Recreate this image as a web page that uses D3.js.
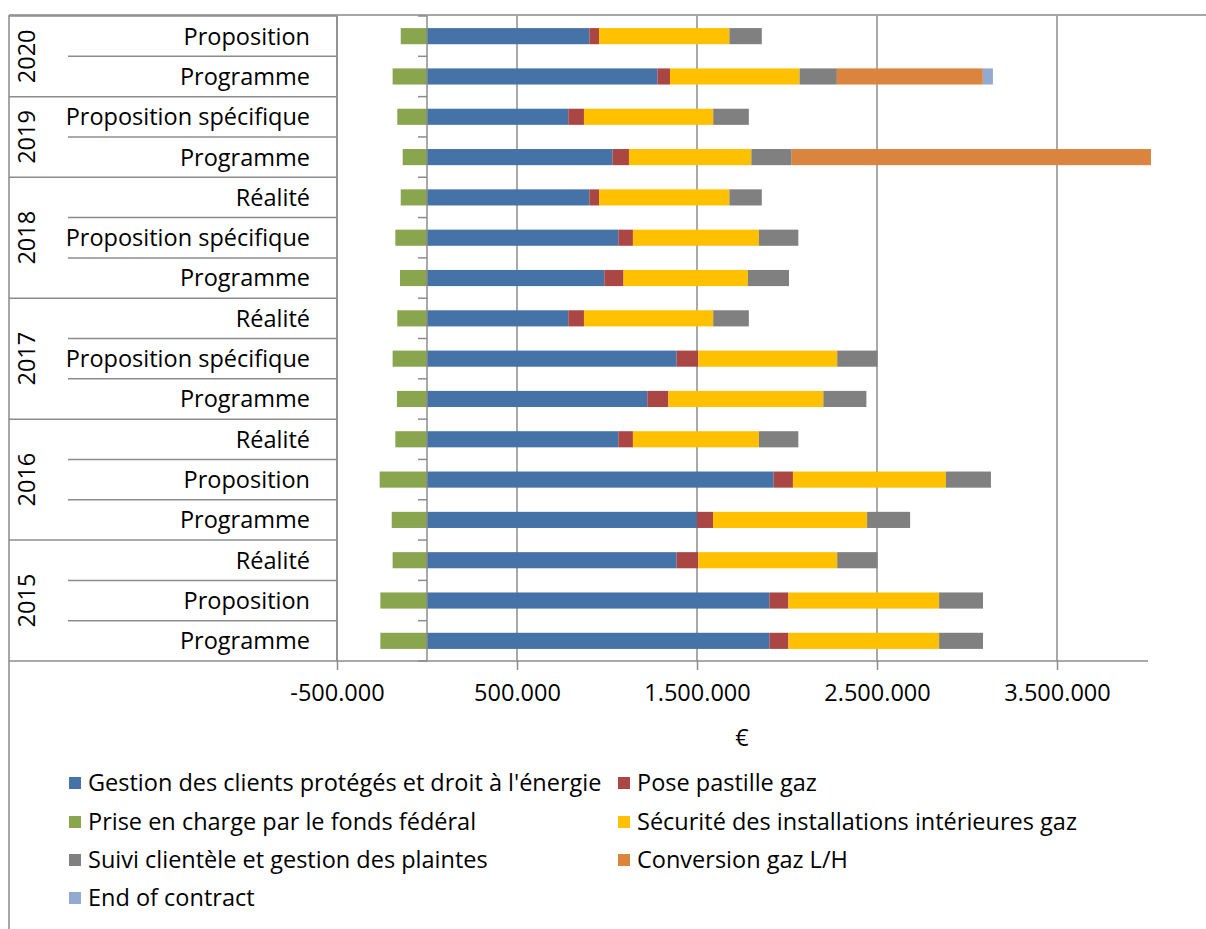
<!DOCTYPE html>
<html>
<head>
<meta charset="utf-8">
<script src="https://cdn.jsdelivr.net/npm/d3@7"></script>
<style>
  html, body { margin: 0; padding: 0; background: #fff; }
  svg { display: block; font-family: "Open Sans", sans-serif; }
</style>
</head>
<body>
<svg id="chart" width="1206" height="929"></svg>
<script>
// Rows listed from top to bottom of the chart
const years = ["2020", "2020", "2019", "2019", "2018", "2018", "2018", "2017", "2017", "2017",
               "2016", "2016", "2016", "2015", "2015", "2015"];
const labels = ["Proposition", "Programme", "Proposition spécifique", "Programme",
                "Réalité", "Proposition spécifique", "Programme",
                "Réalité", "Proposition spécifique", "Programme",
                "Réalité", "Proposition", "Programme",
                "Réalité", "Proposition", "Programme"];

const gestion    = [902000, 1280000, 785000, 1031000, 902000, 1063000, 985000, 785000, 1387000, 1224000, 1063000, 1926000, 1500000, 1387000, 1902000, 1902000];
const pose       = [54000, 70000, 87000, 91000, 54000, 81000, 107000, 87000, 120000, 117000, 81000, 107000, 89000, 120000, 106000, 106000];
const prise      = [-146000, -191000, -165000, -135000, -146000, -176000, -150000, -165000, -191000, -167000, -176000, -263000, -196000, -191000, -259000, -259000];
const securite   = [724000, 720000, 718000, 680000, 724000, 700000, 691000, 718000, 772000, 861000, 700000, 850000, 856000, 772000, 837000, 837000];
const suivi      = [180000, 207000, 198000, 224000, 180000, 219000, 228000, 198000, 224000, 239000, 219000, 250000, 239000, 224000, 244000, 244000];
const conversion = [0, 811000, 0, 1996000, 0, 0, 0, 0, 0, 0, 0, 0, 0, 0, 0, 0];
const endContract= [0, 56000, 0, 0, 0, 0, 0, 0, 0, 0, 0, 0, 0, 0, 0, 0];

const xTicks = [-500000, 500000, 1500000, 2500000, 3500000];

const seriesInfo = [
  { key: "gestion",     name: "Gestion des clients protégés et droit à l'énergie", color: "#4572A7", values: gestion },
  { key: "pose",        name: "Pose pastille gaz",                                  color: "#AA4643", values: pose },
  { key: "prise",       name: "Prise en charge par le fonds fédéral",               color: "#89A54E", values: prise },
  { key: "securite",    name: "Sécurité des installations intérieures gaz",         color: "#FFC000", values: securite },
  { key: "suivi",       name: "Suivi clientèle et gestion des plaintes",            color: "#808080", values: suivi },
  { key: "conversion",  name: "Conversion gaz L/H",                                 color: "#DB843D", values: conversion },
  { key: "eoc",         name: "End of contract",                                    color: "#93A9CF", values: endContract }
];

const rows = labels.map((l, i) => {
  const r = { id: i, year: years[i], label: l };
  seriesInfo.forEach(s => r[s.key] = s.values[i]);
  return r;
});

const svg = d3.select("#chart");
const FONT = 23.5;
const lineCol = "#8c8c8c";

const plot = { left: 337, right: 1147, top: 16, bottom: 661 };

const x = d3.scaleLinear().domain([-500000, 4000000]).range([plot.left, plot.right]);
const y = d3.scaleBand().domain(rows.map(r => r.id)).range([plot.top, plot.bottom]).paddingInner(0.6).paddingOuter(0.3);
const step = y.step();

// Chart area frame (top and left edges)
svg.append("line").attr("x1", 9).attr("x2", 1206).attr("y1", 15).attr("y2", 15)
  .attr("stroke", "#a6a6a6").attr("stroke-width", 2);
svg.append("line").attr("x1", 9).attr("x2", 9).attr("y1", 15).attr("y2", 929)
  .attr("stroke", "#a6a6a6").attr("stroke-width", 2);

// Vertical gridlines
svg.append("g").selectAll("line").data(xTicks).join("line")
  .attr("x1", d => x(d)).attr("x2", d => x(d))
  .attr("y1", plot.top).attr("y2", plot.bottom)
  .attr("stroke", lineCol).attr("stroke-width", 1.5);

// Stacked bars
const stack = d3.stack().keys(seriesInfo.map(s => s.key)).offset(d3.stackOffsetDiverging);
const stacked = stack(rows);
svg.append("g").selectAll("g").data(stacked).join("g")
  .attr("fill", (d, i) => seriesInfo[i].color)
  .selectAll("rect").data(d => d.filter(p => p[1] !== p[0])).join("rect")
  .attr("x", p => x(Math.min(p[0], p[1])))
  .attr("width", p => Math.abs(x(p[1]) - x(p[0])))
  .attr("y", p => y(p.data.id))
  .attr("height", y.bandwidth());

// Category axis at zero, with row-boundary ticks
svg.append("line").attr("x1", x(0)).attr("x2", x(0)).attr("y1", plot.top).attr("y2", plot.bottom)
  .attr("stroke", lineCol).attr("stroke-width", 1.5);
svg.append("g").selectAll("line").data(d3.range(rows.length + 1)).join("line")
  .attr("x1", x(0) - 9).attr("x2", x(0))
  .attr("y1", k => plot.top + k * step).attr("y2", k => plot.top + k * step)
  .attr("stroke", lineCol).attr("stroke-width", 1.5);

// Value axis (dots as thousands separators, plain hyphen for negatives)
const fmt = d3.formatLocale({ decimal: ",", thousands: ".", grouping: [3], currency: ["", " €"], minus: "-" }).format(",");
const xAxis = d3.axisBottom(x).tickValues(xTicks).tickSize(9).tickPadding(14).tickFormat(fmt);
const gx = svg.append("g").attr("transform", `translate(0,${plot.bottom})`).call(xAxis);
gx.select(".domain").remove();
gx.selectAll(".tick line").attr("stroke", lineCol).attr("stroke-width", 1.5);
gx.selectAll(".tick text").attr("font-size", FONT).attr("fill", "#000").attr("font-family", "Open Sans");
svg.append("line").attr("x1", plot.left).attr("x2", plot.right + 1).attr("y1", plot.bottom).attr("y2", plot.bottom)
  .attr("stroke", lineCol).attr("stroke-width", 1.5);

svg.append("text").attr("x", 742).attr("y", 738).attr("dy", "0.35em")
  .attr("text-anchor", "middle").attr("font-size", FONT).text("€");

// Two-level category labels drawn as a table
const table = svg.append("g");
const groups = d3.groups(rows, r => r.year);
// sub-category separators
rows.forEach((r, i) => {
  if (i > 0 && rows[i - 1].year === r.year) {
    const yy = plot.top + i * step;
    table.append("line").attr("x1", 68).attr("x2", plot.left).attr("y1", yy).attr("y2", yy)
      .attr("stroke", lineCol).attr("stroke-width", 1.5);
  }
});
// year separators and year labels
groups.forEach(([yr, rs]) => {
  const first = rs[0].id, last = rs[rs.length - 1].id;
  const y0 = plot.top + first * step, y1 = plot.top + (last + 1) * step;
  table.append("line").attr("x1", 9).attr("x2", plot.left).attr("y1", y1).attr("y2", y1)
    .attr("stroke", lineCol).attr("stroke-width", 1.5);
  table.append("text")
    .attr("transform", `translate(27,${(y0 + y1) / 2}) rotate(-90)`)
    .attr("text-anchor", "middle").attr("dy", "0.36em")
    .attr("font-size", FONT).text(yr);
});
table.append("line").attr("x1", 9).attr("x2", plot.left).attr("y1", plot.top).attr("y2", plot.top)
  .attr("stroke", lineCol).attr("stroke-width", 1.5);
table.append("line").attr("x1", plot.left).attr("x2", plot.left).attr("y1", plot.top).attr("y2", plot.bottom)
  .attr("stroke", lineCol).attr("stroke-width", 1.5);
table.selectAll("text.cat").data(rows).join("text").attr("class", "cat")
  .attr("x", 310).attr("y", r => y(r.id) + y.bandwidth() / 2).attr("dy", "0.36em")
  .attr("text-anchor", "end").attr("font-size", FONT).text(r => r.label);

// Legend
const legendOrder = ["gestion", "pose", "prise", "securite", "suivi", "conversion", "eoc"];
const legendX = [69, 618];
const legendY = [783, 822, 860, 898];
const lg = svg.append("g");
legendOrder.forEach((k, i) => {
  const s = seriesInfo.find(d => d.key === k);
  const lx = legendX[i % 2], ly = legendY[Math.floor(i / 2)];
  lg.append("rect").attr("x", lx).attr("y", ly - 6).attr("width", 12).attr("height", 12).attr("fill", s.color);
  lg.append("text").attr("x", lx + 19).attr("y", ly).attr("dy", "0.36em")
    .attr("font-size", FONT).text(s.name);
});
</script>
</body>
</html>
